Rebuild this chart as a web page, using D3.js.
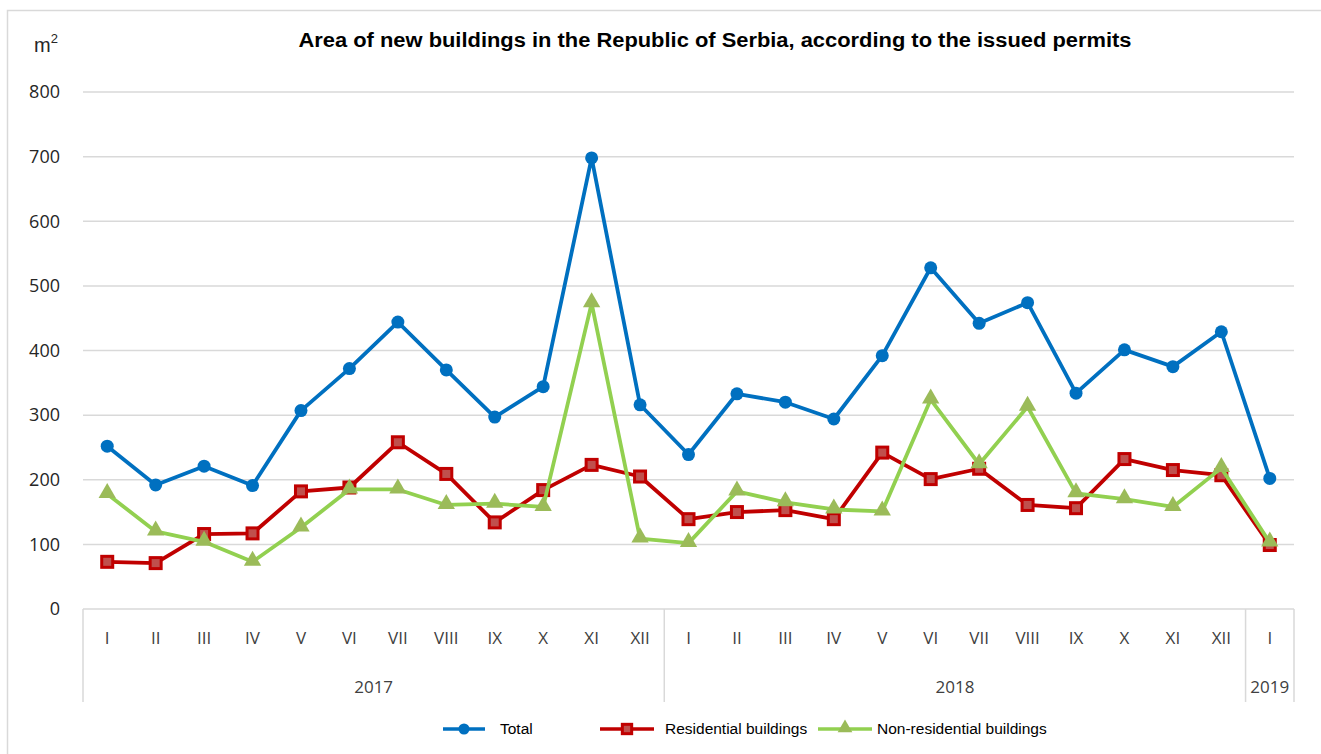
<!DOCTYPE html>
<html>
<head>
<meta charset="utf-8">
<script src="https://cdn.jsdelivr.net/npm/d3@7"></script>
<style>
  body { margin: 0; background: #fff; }
  svg text { font-family: "Open Sans", "Noto Sans", sans-serif; }
</style>
</head>
<body>
<svg id="chart" width="1321" height="754"></svg>
<script>
var months = ["I","II","III","IV","V","VI","VII","VIII","IX","X","XI","XII",
              "I","II","III","IV","V","VI","VII","VIII","IX","X","XI","XII","I"]
var years = [{label: "2017", n: 12}, {label: "2018", n: 12}, {label: "2019", n: 1}]

var total = [252,192,221,191,307,372,444,370,297,344,698,316,
             239,333,320,294,392,528,442,474,334,401,375,429,202]
var residential = [73,71,116,117,182,188,258,209,134,184,223,205,
                   139,150,153,139,242,201,217,161,156,232,215,207,99]
var nonResidential = [178,120,104,73,126,185,185,161,163,158,473,109,
                      102,182,165,154,151,324,224,313,179,170,158,218,103]

var yTicks = [0,100,200,300,400,500,600,700,800]

var series = [
  {name: "Total", values: total, line: "#0070C0", fill: "#0070C0", marker: "circle"},
  {name: "Residential buildings", values: residential, line: "#C00000", fill: "#C0504D", marker: "square"},
  {name: "Non-residential buildings", values: nonResidential, line: "#92D050", fill: "#9BBB59", marker: "triangle"}
]

var svg = d3.select("#chart")
var plotLeft = 83, plotRight = 1294, plotTop = 92, plotBottom = 609

// outer frame
svg.append("rect")
  .attr("x", 7.5).attr("y", 10.5)
  .attr("width", 1340).attr("height", 780)
  .attr("fill", "none").attr("stroke", "#d9d9d9").attr("stroke-width", 1.5)

var x = d3.scaleBand().domain(d3.range(months.length)).range([plotLeft, plotRight])
var y = d3.scaleLinear().domain([0, 800]).range([plotBottom, plotTop])

// gridlines
svg.append("g").selectAll("line")
  .data(yTicks)
  .join("line")
    .attr("x1", plotLeft).attr("x2", plotRight)
    .attr("y1", d => y(d)).attr("y2", d => y(d))
    .attr("stroke", "#d9d9d9").attr("stroke-width", 1.5)

svg.append("g").selectAll("text")
  .data(yTicks)
  .join("text")
    .attr("x", 60).attr("y", d => y(d))
    .attr("dy", "0.35em")
    .attr("text-anchor", "end")
    .attr("fill", "#262626")
    .attr("font-size", 18)
    .text(d => d)

// unit label
svg.append("text")
  .attr("x", 34).attr("y", 52)
  .attr("font-size", 20).attr("fill", "#262626")
  .style("font-family", "'Liberation Sans', sans-serif")
  .text("m")
  .append("tspan").attr("dy", -9).attr("font-size", 13).text("2")

// title
svg.append("text")
  .attr("x", 715).attr("y", 47)
  .attr("text-anchor", "middle")
  .attr("font-size", 19.5).attr("font-weight", "bold").attr("fill", "#000")
  .style("font-family", "'Liberation Sans', sans-serif")
  .attr("textLength", 833)
  .attr("lengthAdjust", "spacingAndGlyphs")
  .text("Area of new buildings in the Republic of Serbia, according to the issued permits")

// category axis
svg.append("g").selectAll("text")
  .data(months)
  .join("text")
    .attr("x", (d, i) => x(i) + x.bandwidth() / 2)
    .attr("y", 638).attr("dy", "0.35em")
    .attr("text-anchor", "middle")
    .attr("font-size", 17).attr("fill", "#404040")
    .text(d => d)

var start = 0
years.forEach(yr => {
  var x0 = x(start), x1 = x(start + yr.n - 1) + x.bandwidth()
  svg.append("line")
    .attr("x1", x0).attr("x2", x0).attr("y1", plotBottom).attr("y2", 702)
    .attr("stroke", "#d9d9d9").attr("stroke-width", 1.5)
  svg.append("text")
    .attr("x", (x0 + x1) / 2).attr("y", 687).attr("dy", "0.35em")
    .attr("text-anchor", "middle")
    .attr("font-size", 17).attr("fill", "#404040")
    .text(yr.label)
  start += yr.n
})
svg.append("line")
  .attr("x1", plotRight).attr("x2", plotRight).attr("y1", plotBottom).attr("y2", 702)
  .attr("stroke", "#d9d9d9").attr("stroke-width", 1.5)

function drawMarker(g, type, s, cx, cy, k) {
  k = k || 1
  if (type === "circle") {
    g.append("circle").attr("cx", cx).attr("cy", cy).attr("r", 6.5 * k)
      .attr("fill", s.fill)
  } else if (type === "square") {
    var h = 5.5 * k
    g.append("rect").attr("x", cx - h).attr("y", cy - h)
      .attr("width", 2 * h).attr("height", 2 * h)
      .attr("fill", s.fill).attr("stroke", s.line).attr("stroke-width", 3)
  } else {
    g.append("path")
      .attr("d", d3.symbol(d3.symbolTriangle, 130 * k * k)())
      .attr("transform", "translate(" + cx + "," + (cy - 1) + ")")
      .attr("fill", s.fill)
  }
}

var line = d3.line()
  .x((d, i) => x(i) + x.bandwidth() / 2)
  .y(d => y(d))

series.forEach(s => {
  var g = svg.append("g")
  g.append("path")
    .datum(s.values)
    .attr("fill", "none")
    .attr("stroke", s.line)
    .attr("stroke-width", 3.8)
    .attr("stroke-linejoin", "round")
    .attr("d", line)
  s.values.forEach((v, i) => drawMarker(g, s.marker, s, x(i) + x.bandwidth() / 2, y(v)))
})

// legend
var legendPos = [{lx: 443, tx: 500}, {lx: 600, tx: 665}, {lx: 818, tx: 877}]
series.forEach((s, i) => {
  var g = svg.append("g")
  var p = legendPos[i]
  var w = i === 0 ? 42 : 54
  g.append("line")
    .attr("x1", p.lx).attr("x2", p.lx + w).attr("y1", 729).attr("y2", 729)
    .attr("stroke", s.line).attr("stroke-width", 3.5)
  drawMarker(g, s.marker, s, p.lx + w / 2, 729, 0.85)
  g.append("text")
    .attr("x", p.tx).attr("y", 729).attr("dy", "0.35em")
    .attr("font-size", 15.5).attr("fill", "#000")
    .style("font-family", "'Liberation Sans', sans-serif")
    .text(s.name)
})
</script>
</body>
</html>
